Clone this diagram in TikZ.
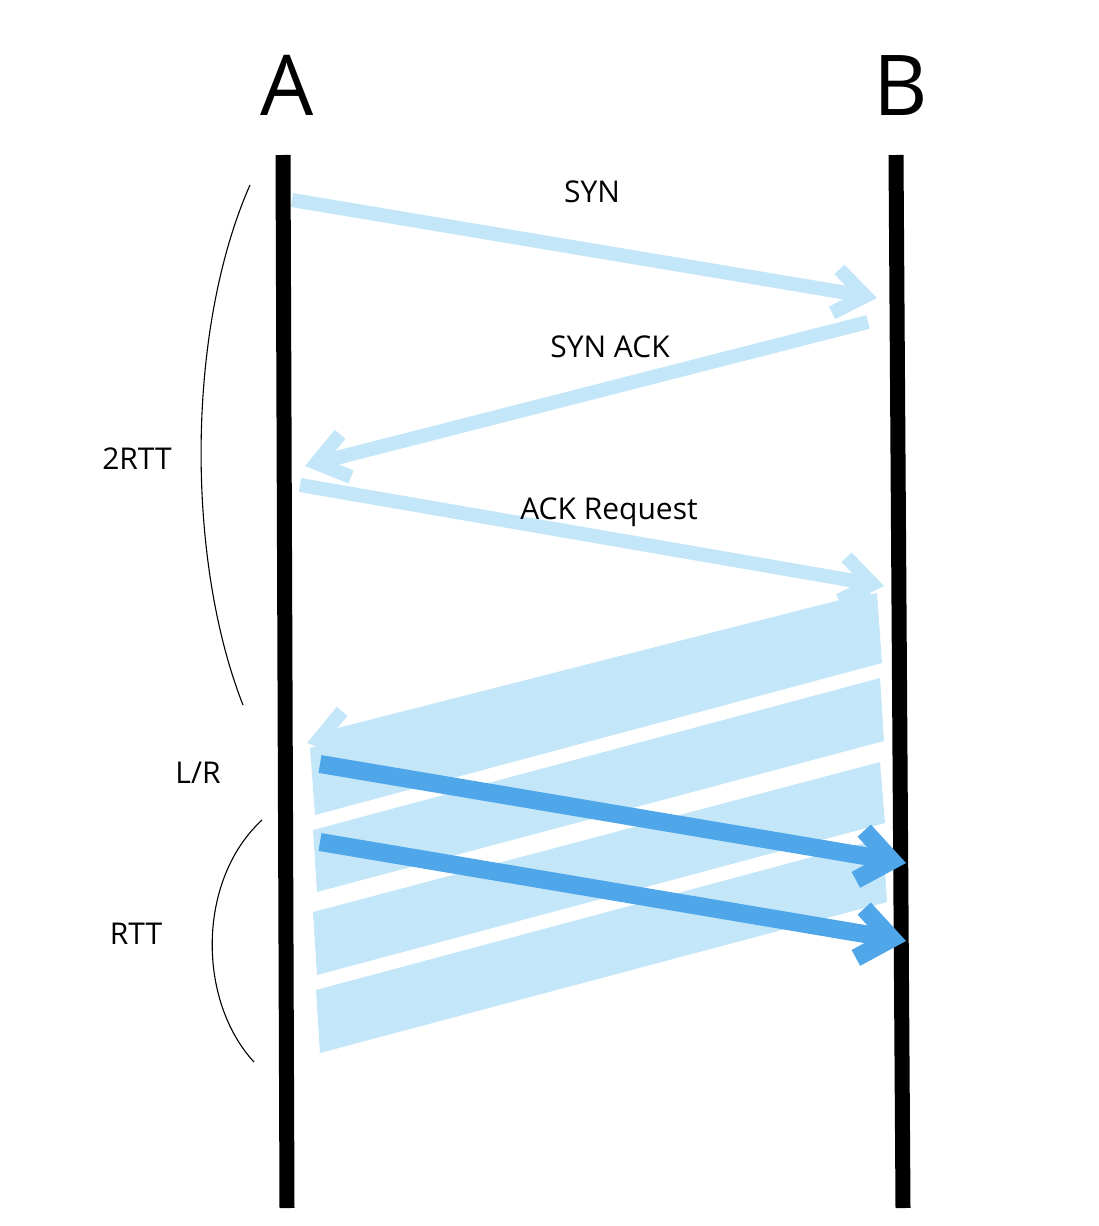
\documentclass[tikz,border=0pt]{standalone}
\usepackage{fontspec}
\setmainfont{Open Sans}
\usetikzlibrary{arrows.meta}
\definecolor{lightsky}{RGB}{195,231,249}
\definecolor{darksky}{RGB}{79,166,233}
\begin{document}
\begin{tikzpicture}[x=1pt, y=-1pt,
    life/.style={line width=15pt},
    msg/.style={lightsky, line width=14pt, -{Straight Barb[length=30pt, width=44pt]}},
    data/.style={darksky, line width=18pt, -{Straight Barb[length=32pt, width=50pt]}},
    band/.style={fill=lightsky},
    brace/.style={line width=1.1pt},
    big/.style={anchor=base, font=\fontsize{84}{90}\selectfont},
    txt/.style={anchor=base, font=\fontsize{30}{36}\selectfont}]
    % Bounding box
    \useasboundingbox (0,0) rectangle (1098,1226);

    % Hosts
    \node[big] (A) at (287,115) {A};
    \node[big] (B) at (901,115) {B};

    % Lifelines
    \coordinate (Atop) at (283,155);
    \coordinate (Abot) at (287,1208);
    \coordinate (Btop) at (896,155);
    \coordinate (Bbot) at (903,1208);
    \draw[life] (Atop) -- (Abot);
    \draw[life] (Btop) -- (Bbot);

    % Handshake
    \coordinate (syn0) at (292,200);
    \coordinate (syn1) at (877,298);
    \coordinate (synack0) at (868,322);
    \coordinate (synack1) at (305,466);
    \coordinate (req0) at (300,485);
    \coordinate (req1) at (884,586);
    \draw[msg] (syn0) -- (syn1);
    \draw[msg] (synack0) -- (synack1);
    \draw[msg] (req0) -- (req1);

    % Response bands
    \fill[band] (310,748) -- (877,593) -- (882,663) -- (315,815) -- cycle;
    \fill[band] (313,830) -- (880,678) -- (884,741) -- (317,892) -- cycle;
    \fill[band] (313,912) -- (880,762) -- (885,823) -- (317,975) -- cycle;
    \fill[band] (316,990) -- (883,838) -- (887,902) -- (320,1053) -- cycle;
    \coordinate (resp0) at (872,599);
    \coordinate (resp1) at (307,743);
    \draw[msg] (resp0) -- (resp1);

    % Data packets
    \coordinate (d10) at (320,764);
    \coordinate (d11) at (906,863);
    \coordinate (d20) at (320,842);
    \coordinate (d21) at (906,941);
    \draw[data] (d10) -- (d11);
    \draw[data] (d20) -- (d21);

    % Message labels
    \node[txt] (syn) at (592,202) {SYN};
    \node[txt] (synack) at (610,357) {SYN ACK};
    \node[txt] (req) at (609,519) {ACK Request};

    % Braces and timings
    \coordinate (b1top) at (250,185);
    \coordinate (b1bot) at (243,705);
    \coordinate (b2top) at (262,820);
    \coordinate (b2bot) at (254,1062);
    \draw[brace] (b1top) .. controls (186,330) and (186,560) .. (b1bot);
    \draw[brace] (b2top) .. controls (197,880) and (197,1000) .. (b2bot);
    \node[txt] (rtt2) at (137,469) {2RTT};
    \node[txt] (lr) at (198,783) {L/R};
    \node[txt] (rtt) at (136,944) {RTT};
\end{tikzpicture}
\end{document}
